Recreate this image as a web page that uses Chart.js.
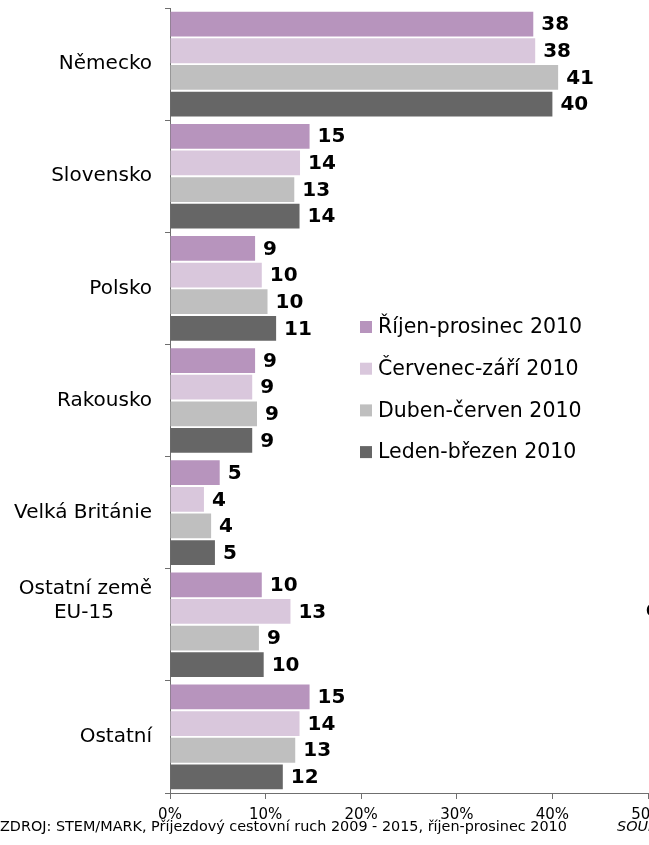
<!DOCTYPE html>
<html>
<head>
<meta charset="utf-8">
<script src="https://cdn.jsdelivr.net/npm/chart.js@4"></script>
<style>
html,body{margin:0;padding:0;background:#fff;overflow:hidden;}
#wrap{width:649px;height:845px;position:relative;}
</style>
</head>
<body>
<div id="wrap"><canvas id="c" width="649" height="845"></canvas></div>
<script>
const categories = ['Německo', 'Slovensko', 'Polsko', 'Rakousko', 'Velká Británie', ['Ostatní země', 'EU-15'], 'Ostatní'];
const seriesNames = ['Říjen-prosinec 2010', 'Červenec-září 2010', 'Duben-červen 2010', 'Leden-březen 2010'];
const rijenProsinec = [38.0, 14.6, 8.9, 8.9, 5.2, 9.6, 14.6];
const cervenecZari  = [38.2, 13.6, 9.6, 8.6, 3.55, 12.6, 13.55];
const dubenCerven   = [40.6, 13.0, 10.2, 9.1, 4.3, 9.3, 13.1];
const ledenBrezen   = [40.0, 13.55, 11.1, 8.6, 4.7, 9.8, 11.8];
const xTicks = [0, 10, 20, 30, 40, 50];
const sourceText = 'ZDROJ: STEM/MARK, Příjezdový cestovní ruch 2009 - 2015, říjen-prosinec 2010';
const sourceTextEn = 'SOURCE: STEM/MARK';

const colors = ['#B794BD', '#D9C7DC', '#BFBFBF', '#666666'];
const FONT = '"DejaVu Sans", Verdana, sans-serif';

const valueLabels = {
  id: 'valueLabels',
  afterDatasetsDraw(chart) {
    const ctx = chart.ctx;
    ctx.save();
    ctx.font = 'bold 20px ' + FONT;
    ctx.fillStyle = '#000';
    ctx.textAlign = 'left';
    ctx.textBaseline = 'middle';
    chart.data.datasets.forEach((ds, i) => {
      chart.getDatasetMeta(i).data.forEach((bar, j) => {
        ctx.fillText(String(Math.round(ds.data[j])), bar.x + 8, bar.y + 1);
      });
    });
    ctx.restore();
  }
};

const extras = {
  id: 'extras',
  afterDraw(chart) {
    const ctx = chart.ctx;
    ctx.save();
    // legend
    ctx.font = '20.5px ' + FONT;
    ctx.textBaseline = 'middle';
    ctx.textAlign = 'left';
    chart.data.datasets.forEach((ds, i) => {
      const y = 327 + i * 41.7;
      ctx.fillStyle = ds.backgroundColor;
      ctx.fillRect(360, y - 6, 12, 12);
      ctx.fillStyle = '#000';
      ctx.fillText(ds.label, 378, y + 1);
    });
    // source notes
    ctx.font = '14.4px ' + FONT;
    ctx.fillStyle = '#000';
    ctx.fillText(sourceText, 0, 827);
    ctx.font = 'italic 14.4px ' + FONT;
    ctx.fillText(sourceTextEn, 617, 827);
    ctx.font = 'bold 15px ' + FONT;
    ctx.fillText('O', 646, 612);
    ctx.restore();
  }
};

new Chart(document.getElementById('c'), {
  type: 'bar',
  data: {
    labels: categories,
    datasets: [rijenProsinec, cervenecZari, dubenCerven, ledenBrezen].map((d, i) => ({
      label: seriesNames[i],
      data: d,
      backgroundColor: colors[i],
      borderWidth: 0,
      barPercentage: 0.93,
      categoryPercentage: 0.95
    }))
  },
  options: {
    indexAxis: 'y',
    responsive: false,
    animation: false,
    devicePixelRatio: 1,
    layout: { padding: { top: 8, right: 1, left: 0, bottom: 0 } },
    plugins: { legend: { display: false }, tooltip: { enabled: false } },
    scales: {
      x: {
        min: 0, max: 50,
        afterBuildTicks(scale) { scale.ticks = xTicks.map(v => ({ value: v })); },
        ticks: {
          callback: v => v + '%',
          font: { family: FONT, size: 15 },
          color: '#000',
          padding: 7,
          maxRotation: 0
        },
        grid: { drawOnChartArea: false, drawTicks: true, tickLength: 6, color: '#6f6f6f' },
        border: { color: '#6f6f6f', width: 1 },
        afterFit(scale) { scale.height = 52; scale.paddingLeft = 0; scale.paddingRight = 0; }
      },
      y: {
        ticks: {
          font: { family: FONT, size: 20, lineHeight: 1.2 },
          color: '#000',
          padding: 13,
          callback(value) {
            const lab = this.getLabelForValue(value);
            if (Array.isArray(lab)) {
              const cv = document.createElement('canvas').getContext('2d');
              cv.font = '20px ' + FONT;
              const maxW = Math.max(...lab.map(s => cv.measureText(s).width));
              const sp = cv.measureText('\u00A0').width;
              const lines = lab.map(s => s + '\u00A0'.repeat(Math.round((maxW - cv.measureText(s).width) / 2 / sp)));
              return lines.concat(['', '']);
            }
            return lab;
          }
        },
        grid: { drawOnChartArea: false, drawTicks: true, tickLength: 5, offset: true, color: '#6f6f6f' },
        border: { color: '#6f6f6f', width: 1 },
        afterFit(scale) { scale.width = 170; scale.paddingTop = 0; scale.paddingBottom = 0; }
      }
    }
  },
  plugins: [valueLabels, extras]
});
</script>
</body>
</html>
